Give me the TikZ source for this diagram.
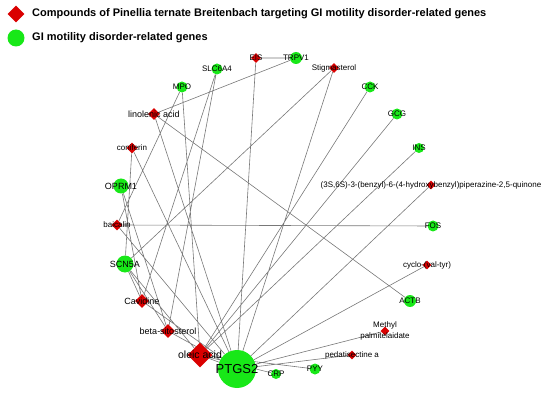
\documentclass[tikz,border=0pt]{standalone}
\usepackage{fontspec}
\setmainfont{Liberation Sans}
\usetikzlibrary{shapes.geometric}
\definecolor{cpdred}{RGB}{218,0,0}
\definecolor{genegreen}{RGB}{24,232,24}
\definecolor{linkgray}{RGB}{120,120,120}
\pgfdeclarelayer{bg}
\pgfsetlayers{bg,main}

\begin{document}
\begin{tikzpicture}[x=1pt,y=-1pt,
    cpd/.style={diamond,aspect=1,fill=cpdred,inner sep=0pt,minimum size=#1},
    gene/.style={circle,fill=genegreen,inner sep=0pt,minimum size=#1},
    lbl/.style={font=\fontsize{8}{9}\selectfont,inner sep=0pt},
    mid/.style={lbl,font=\fontsize{9}{10}\selectfont},
    key/.style={anchor=west,inner sep=0pt,font=\bfseries\fontsize{11}{13}\selectfont},
    link/.style={draw=linkgray,line width=0.6pt}]
    \useasboundingbox (0,0) rectangle (550,396);

    % legend
    \node[cpd=17] (keycpd) at (16,14) {};
    \node[key] (keycpdtext) at (32,14) {Compounds of Pinellia ternate Breitenbach targeting GI motility disorder-related genes};
    \node[gene=17] (keygene) at (16,38) {};
    \node[key] (keygenetext) at (32,38) {GI motility disorder-related genes};

    % network
    \node[cpd=10,label={[lbl]center:EIS}] (eis) at (256,58) {};
    \node[gene=12,label={[lbl]center:TRPV1}] (trpv1) at (296,58) {};
    \node[gene=11,label={[lbl]center:SLC6A4}] (slc6a4) at (217,69) {};
    \node[cpd=10,label={[lbl]center:Stigmasterol}] (stig) at (334,68) {};
    \node[gene=11,label={[lbl]center:MPO}] (mpo) at (182,87) {};
    \node[gene=11,label={[lbl]center:CCK}] (cck) at (370,87) {};
    \node[cpd=12,label={[mid]center:linolenic acid}] (lino) at (154,114) {};
    \node[gene=11,label={[lbl]center:GCG}] (gcg) at (397,114) {};
    \node[cpd=11,label={[lbl]center:coniferin}] (coni) at (132,148) {};
    \node[gene=10,label={[lbl]center:INS}] (ins) at (419,148) {};
    \node[gene=15,label={[mid]center:OPRM1}] (oprm1) at (121,186) {};
    \node[cpd=9,label={[lbl]center:(3S,6S)-3-(benzyl)-6-(4-hydroxybenzyl)piperazine-2,5-quinone}] (bhpq) at (431,185) {};
    \node[cpd=11,label={[lbl]center:baicalin}] (baic) at (117,225) {};
    \node[gene=11,label={[lbl]center:FOS}] (fos) at (433,226) {};
    \node[gene=17,label={[mid]center:SCN5A}] (scn5a) at (125,264) {};
    \node[cpd=9,label={[lbl]center:cyclo-(val-tyr)}] (cvt) at (427,265) {};
    \node[cpd=14,label={[mid]center:Cavidine}] (cavi) at (142,301) {};
    \node[gene=12,label={[lbl]center:ACTB}] (actb) at (410,301) {};
    \node[cpd=14,label={[mid]center:beta-sitosterol}] (bsito) at (168,331) {};
    \node[cpd=9,label={[lbl,align=center,font=\fontsize{8}{11}\selectfont]center:Methyl\\palmitelaidate}] (mpal) at (385,331) {};
    \node[cpd=25,label={[lbl,font=\fontsize{10.5}{12}\selectfont]center:oleic acid}] (oleic) at (200,355) {};
    \node[cpd=9,label={[lbl]center:pedatisectine a}] (peda) at (352,355) {};
    \node[gene=38,label={[lbl,font=\fontsize{13}{15}\selectfont]center:PTGS2}] (ptgs2) at (237,369) {};
    \node[gene=10,label={[lbl]center:CRP}] (crp) at (276,374) {};
    \node[gene=11,label={[lbl]center:PYY}] (pyy) at (315,369) {};

    \begin{pgfonlayer}{bg}
    \draw[link]
    (eis) -- (trpv1) (eis) -- (ptgs2)
    (lino) -- (trpv1) (lino) -- (ptgs2) (lino) -- (actb)
    (stig) -- (scn5a) (stig) -- (ptgs2)
    (baic) -- (fos) (baic) -- (mpo) (baic) -- (ptgs2)
    (coni) -- (scn5a) (coni) -- (ptgs2)
    (cavi) -- (scn5a) (cavi) -- (oprm1) (cavi) -- (slc6a4) (cavi) -- (ptgs2)
    (bsito) -- (scn5a) (bsito) -- (oprm1) (bsito) -- (slc6a4) (bsito) -- (ptgs2)
    (oleic) -- (mpo) (oleic) -- (cck) (oleic) -- (gcg) (oleic) -- (ins)
    (oleic) -- (scn5a) (oleic) -- (crp) (oleic) -- (pyy) (oleic) -- (ptgs2)
    (bhpq) -- (ptgs2) (cvt) -- (ptgs2) (mpal) -- (ptgs2) (peda) -- (ptgs2);
    \end{pgfonlayer}
\end{tikzpicture}
\end{document}
